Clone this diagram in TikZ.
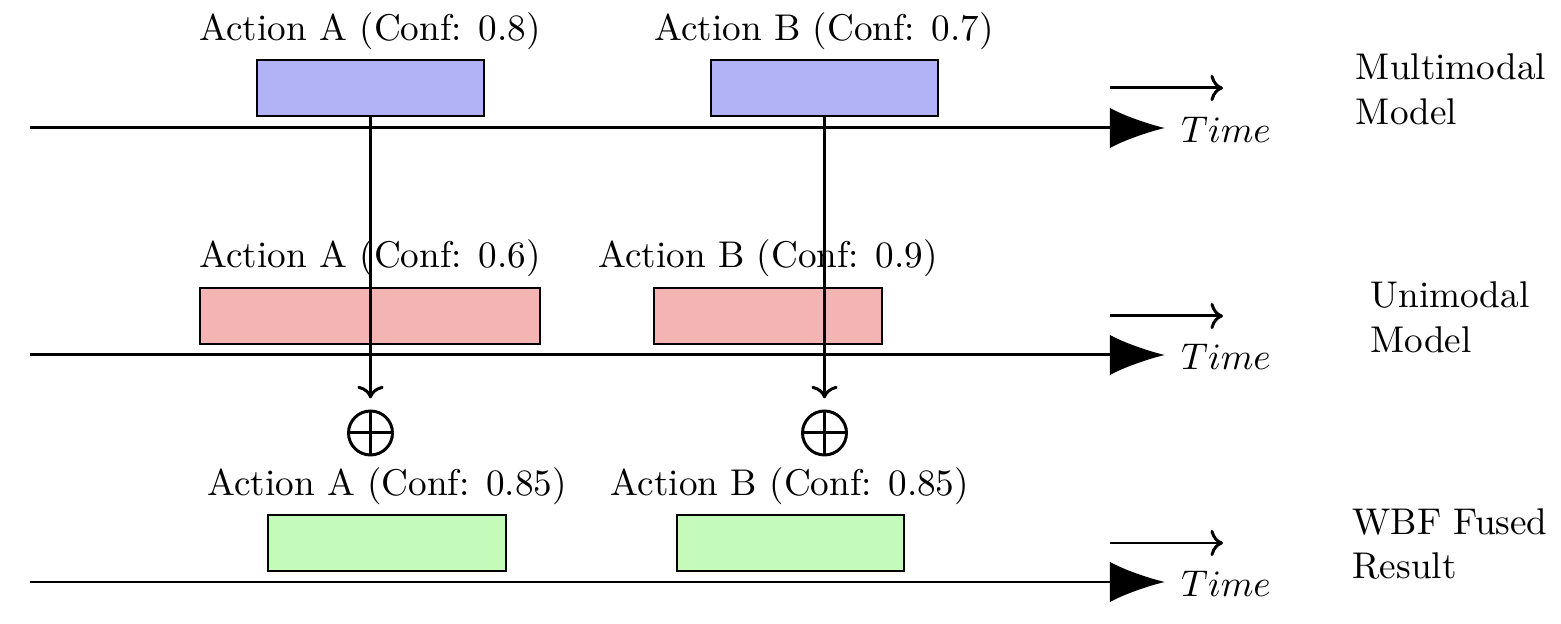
\documentclass[tikz,border=0pt]{standalone}
\usetikzlibrary{arrows.meta}
\definecolor{umfill}{RGB}{244,180,180}
\definecolor{mmfill}{RGB}{178,178,246}
\definecolor{fufill}{RGB}{196,250,186}
\begin{document}
\begin{tikzpicture}[x=0.2688pt,y=-0.2688pt,
  axis/.style={thick,-{Latex[length=14.8pt,width=10.8pt]}},
  timearrow/.style={thick,->},
  mmbox/.style={draw,fill=mmfill,minimum width=227*0.2688pt,minimum height=56*0.2688pt,inner sep=0pt},
  umbox/.style={draw,fill=umfill,minimum height=56*0.2688pt,inner sep=0pt},
  fubox/.style={draw,fill=fufill,minimum height=56*0.2688pt,inner sep=0pt},
  lbl/.style={inner sep=1pt},
  sidelbl/.style={align=left,inner sep=1pt},
  oplus/.style={circle,draw,thick,minimum size=44*0.2688pt,inner sep=0pt,
    path picture={\draw[thick] (path picture bounding box.north) -- (path picture bounding box.south)
      (path picture bounding box.west) -- (path picture bounding box.east);}},
  fuse/.style={thick,->,shorten >=3pt}]
\useasboundingbox (0,0) rectangle (1561,624);

% axes
\foreach \n/\y in {a/128,b/355,c/582}{
  \coordinate (s\n) at (30,\y);
  \coordinate (e\n) at (1165,\y);
  \draw[axis] (s\n) -- (e\n);
  \node[lbl] (time\n) at (1226,\y+2) {$Time$};
}
\foreach \n/\y in {a/88,b/316,c/543}{
  \coordinate (ts\n) at (1110,\y);
  \coordinate (te\n) at (1223,\y);
  \draw[timearrow] (ts\n) -- (te\n);
}

% multimodal
\node[mmbox] (mA) at (370.5,88) {};
\node[mmbox] (mB) at (824.5,88) {};
\node[lbl] (mAl) at (370,31) {Action A (Conf: 0.8)};
\node[lbl] (mBl) at (824,31) {Action B (Conf: 0.7)};

% unimodal
\node[umbox,minimum width=340*0.2688pt] (uA) at (370,316) {};
\node[umbox,minimum width=228*0.2688pt] (uB) at (768,316) {};
\node[lbl] (uAl) at (370,258) {Action A (Conf: 0.6)};
\node[lbl] (uBl) at (768,258) {Action B (Conf: 0.9)};

% fused
\node[fubox,minimum width=238*0.2688pt] (fA) at (387,543) {};
\node[fubox,minimum width=227*0.2688pt] (fB) at (790.5,543) {};
\node[lbl] (fAl) at (387,486) {Action A (Conf: 0.85)};
\node[lbl] (fBl) at (790,486) {Action B (Conf: 0.85)};

% oplus
\node[oplus] (oA) at (370.5,433) {};
\node[oplus] (oB) at (824.5,433) {};
\draw[fuse] (mA.south) -- (oA.north);
\draw[fuse] (mB.south) -- (oB.north);

% side labels
\node[sidelbl] (lm) at (1451,89) {Multimodal\\Model};
\node[sidelbl] (lu) at (1450,317) {Unimodal\\Model};
\node[sidelbl] (lf) at (1450,544) {WBF Fused\\Result};
\end{tikzpicture}
\end{document}
